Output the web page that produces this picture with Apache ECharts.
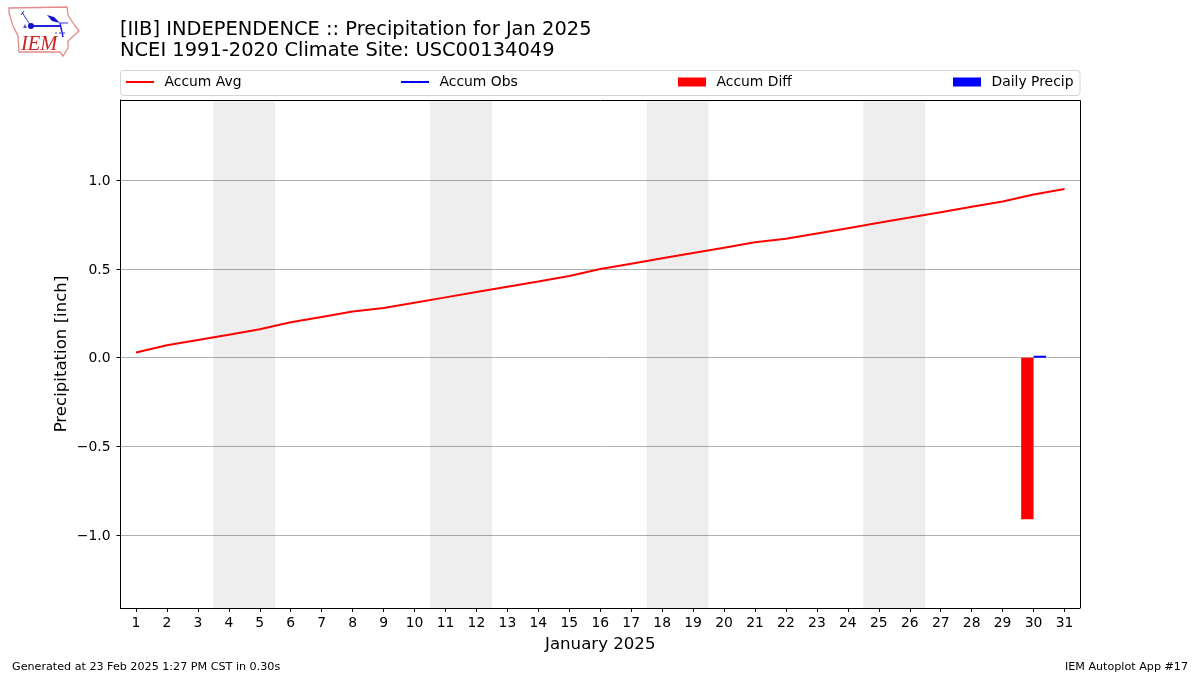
<!DOCTYPE html>
<html>
<head>
<meta charset="utf-8">
<title>Precipitation for Jan 2025</title>
<script src="https://cdn.jsdelivr.net/npm/echarts@6/dist/echarts.min.js"></script>
<style>
  html, body { margin: 0; padding: 0; background: #fff; }
  #chart { width: 1200px; height: 675px; }
</style>
</head>
<body>
<div id="chart"></div>
<script>
var days = ['1','2','3','4','5','6','7','8','9','10','11','12','13','14','15','16',
  '17','18','19','20','21','22','23','24','25','26','27','28','29','30','31'];
var accumAvg = [0.03,0.07,0.10,0.13,0.16,0.20,0.23,0.26,0.28,0.31,0.34,0.37,0.40,0.43,0.46,0.50,
  0.53,0.56,0.59,0.62,0.65,0.67,0.70,0.73,0.76,0.79,0.82,0.85,0.88,0.92,0.95];
// only the 30th has a reading
var accumObs = days.map(function(d) { return d == '30' ? 0.01 : null; });
var accumDiff = days.map(function(d) { return d == '30' ? -0.91 : null; });
var dailyPrecip = days.map(function(d) { return d == '30' ? 0.01 : null; });
var weekends = [[3.5, 5.5], [10.5, 12.5], [17.5, 19.5], [24.5, 26.5]];
var yTicks = [-1, -0.5, 0, 0.5, 1];

var font = 'DejaVu Sans';
var chart = echarts.init(document.getElementById('chart'), null, {renderer: 'canvas'});

function legendItem(name, left, h) {
  return {
    left: left,
    top: 75,
    padding: 0,
    data: [name],
    icon: 'rect',
    itemWidth: 28,
    itemHeight: h,
    selectedMode: false,
    textStyle: {fontFamily: font, fontSize: 13.9, color: '#000', padding: [0, 0, 0, 5.5]}
  };
}

chart.setOption({
  animation: false,
  backgroundColor: '#fff',
  textStyle: {fontFamily: font},
  title: {
    left: 120,
    top: 19,
    padding: 0,
    text: '[IIB] INDEPENDENCE :: Precipitation for Jan 2025\nNCEI 1991-2020 Climate Site: USC00134049',
    textStyle: {fontFamily: font, fontSize: 19.45, fontWeight: 'normal', color: '#000', lineHeight: 21.5}
  },
  legend: [
    legendItem('Accum Avg', 126, 2),
    legendItem('Accum Obs', 401, 2),
    legendItem('Accum Diff', 678, 9),
    legendItem('Daily Precip', 953, 9)
  ],
  grid: [
    {left: 120.5, right: 120, top: 100, bottom: 67, containLabel: false},
    // second grid spans exactly -1..1 so its axis ticks land on the round values
    {left: 120.5, right: 120, top: 180, height: 355, containLabel: false}
  ],
  xAxis: [{
    type: 'category',
    data: days,
    name: 'January 2025',
    nameLocation: 'middle',
    nameGap: 28,
    nameTextStyle: {fontFamily: font, fontSize: 16.6, color: '#000'},
    axisLine: {show: true, onZero: false, lineStyle: {color: '#000', width: 1}},
    axisTick: {show: true, alignWithLabel: true, length: 4, lineStyle: {color: '#000', width: 1}},
    axisLabel: {interval: 0, margin: 8, fontFamily: font, fontSize: 13.9, color: '#000'},
    splitLine: {show: false}
  }, {
    // hidden numeric axis, the weekend bands sit between days
    type: 'value',
    min: 0.5,
    max: 31.5,
    show: false
  }, {
    type: 'value',
    gridIndex: 1,
    min: 0,
    max: 1,
    show: false
  }],
  yAxis: [{
    type: 'value',
    min: -1.41,
    max: 1.452,
    name: 'Precipitation [inch]',
    nameLocation: 'middle',
    nameGap: 50,
    nameMoveOverlap: false,
    nameTextStyle: {fontFamily: font, fontSize: 16.6, color: '#000'},
    axisLine: {show: true, onZero: false, lineStyle: {color: '#000', width: 1}},
    axisTick: {show: false, customValues: yTicks},
    axisLabel: {
      customValues: yTicks,
      margin: 10,
      fontFamily: font,
      fontSize: 13.9,
      color: '#000',
      formatter: function(v) { return '{a|' + v.toFixed(1).replace('-', '\u2212') + '}'; },
      rich: {a: {fontFamily: font, fontSize: 13.9, color: '#000', padding: [2, 0, 0, 0]}}
    },
    splitLine: {show: true, lineStyle: {color: '#b0b0b0', width: 1}}
  }, {
    type: 'value',
    gridIndex: 1,
    min: yTicks[0],
    max: yTicks[yTicks.length - 1],
    interval: 0.5,
    axisLine: {show: false},
    axisTick: {show: true, length: 4, lineStyle: {color: '#000', width: 1}},
    axisLabel: {show: false},
    splitLine: {show: false}
  }],
  series: [{
    name: 'weekends',
    type: 'line',
    xAxisIndex: 1,
    data: [],
    silent: true,
    markArea: {
      silent: true,
      itemStyle: {color: 'rgba(0,0,0,0.067)'},
      data: weekends.map(function(w) { return [{xAxis: w[0]}, {xAxis: w[1]}]; })
    }
  }, {
    name: 'Accum Avg',
    type: 'line',
    data: accumAvg,
    showSymbol: false,
    symbol: 'none',
    itemStyle: {color: '#ff0000'},
    lineStyle: {color: '#ff0000', width: 2}
  }, {
    name: 'Accum Obs',
    type: 'line',
    data: accumObs,
    showSymbol: false,
    symbol: 'none',
    itemStyle: {color: '#0000ff'},
    lineStyle: {color: '#0000ff', width: 2}
  }, {
    name: 'Accum Diff',
    type: 'bar',
    data: accumDiff,
    barWidth: 12.4,
    barGap: 0,
    itemStyle: {color: '#ff0000'}
  }, {
    name: 'Daily Precip',
    type: 'bar',
    data: dailyPrecip,
    barWidth: 12.4,
    barGap: 0,
    barMinHeight: 2,
    itemStyle: {color: '#0000ff'}
  }],
  graphic: [
    // legend frame
    {type: 'rect', z: -10, shape: {x: 120.5, y: 70.5, width: 959.5, height: 25, r: 3},
      style: {fill: '#fff', stroke: '#d4d4d4', lineWidth: 1}},
    // top and right edges of the axes box
    {type: 'polyline', z: 10, shape: {points: [[120.5, 100.5], [1080.5, 100.5], [1080.5, 608]]},
      style: {fill: null, stroke: '#000', lineWidth: 1}},
    // IEM logo
    {type: 'polygon', shape: {points: [[9,8],[67,7],[68,15],[73,23],[79,31],[68,41],[68,48],[63,56],[60,52],[19,52],[18,36],[13,26],[9,13]]},
      style: {fill: '#fff', stroke: '#e58a8a', lineWidth: 1.3}},
    {type: 'polyline', shape: {points: [[32,26],[60,26]]},
      style: {fill: null, stroke: '#2222dd', lineWidth: 2}},
    {type: 'polyline', shape: {points: [[22,12],[25,17],[31,26]]},
      style: {fill: null, stroke: '#3333dd', lineWidth: 1}},
    {type: 'polyline', shape: {points: [[21,15],[24,11]]},
      style: {fill: null, stroke: '#3333dd', lineWidth: 1}},
    {type: 'polyline', shape: {points: [[60,23],[68,23]]},
      style: {fill: null, stroke: '#3333dd', lineWidth: 1}},
    {type: 'polyline', shape: {points: [[60,23],[63,37]]},
      style: {fill: null, stroke: '#2222dd', lineWidth: 1.5}},
    {type: 'polyline', shape: {points: [[55,33],[65,33]]},
      style: {fill: null, stroke: '#3333dd', lineWidth: 1, lineDash: [2, 2]}},
    {type: 'circle', shape: {cx: 31, cy: 26, r: 3}, style: {fill: '#1111cc'}},
    {type: 'polygon', shape: {points: [[47,15],[54,17],[60,23],[52,21]]}, style: {fill: '#1111cc'}},
    {type: 'polygon', shape: {points: [[25,24],[27,28],[23,28]]}, style: {fill: '#5555cc'}},
    {type: 'text', left: 21, top: 35,
      style: {text: 'IEM', fontFamily: 'Liberation Serif', fontStyle: 'italic', fontSize: 20.5, fill: '#cc2222'}},
    // footer
    {type: 'text', left: 12, top: 662,
      style: {text: 'Generated at 23 Feb 2025 1:27 PM CST in 0.30s', fontFamily: font, fontSize: 11.15, fill: '#000'}},
    {type: 'text', right: 12, top: 662,
      style: {text: 'IEM Autoplot App #17', fontFamily: font, fontSize: 11.15, fill: '#000'}}
  ]
});
</script>
</body>
</html>
